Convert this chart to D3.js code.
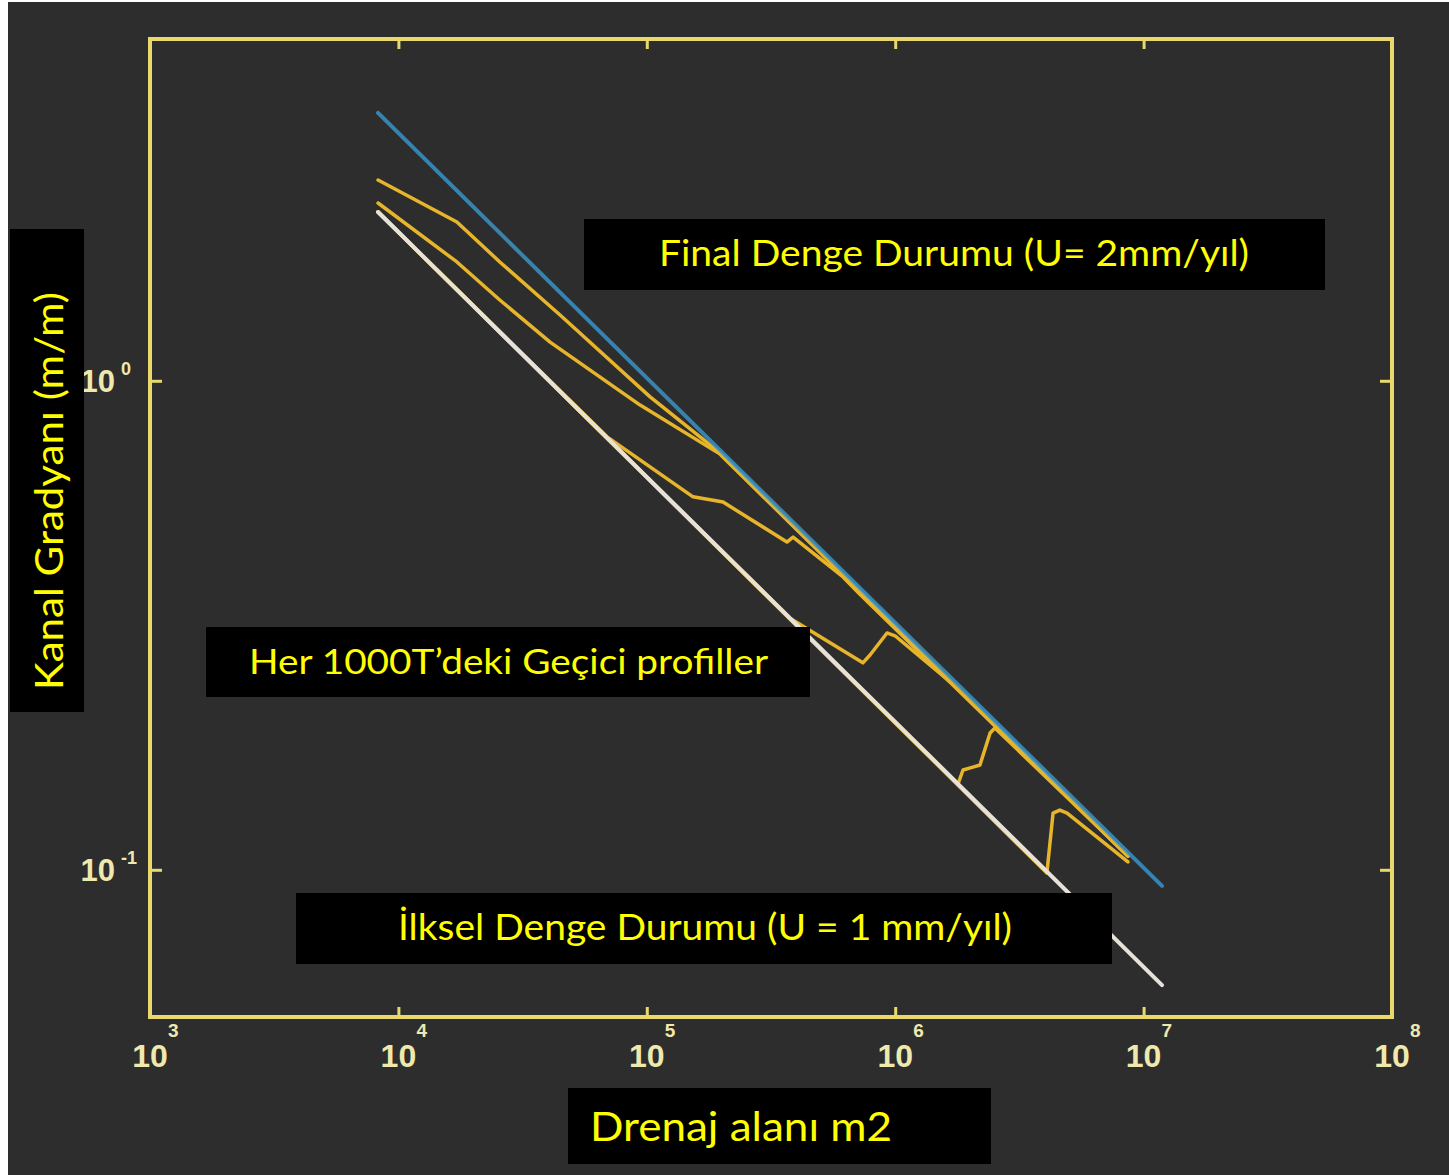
<!DOCTYPE html>
<html>
<head>
<meta charset="utf-8">
<script src="https://cdn.jsdelivr.net/npm/d3@7"></script>
<style>
  html, body { margin: 0; padding: 0; background: #ffffff; }
  svg { display: block; }
</style>
</head>
<body>
<div id="chart"></div>
<script>
'use strict';

// axis decades
const xTicks = [1e3, 1e4, 1e5, 1e6, 1e7, 1e8];
const yTicks = [1e-1, 1e0];

// equilibrium profiles, [drainage area m2, channel gradient m/m]
const initialProfile = [[8280, 2.214], [1.186e7, 0.0581]];
const finalProfile = [[8280, 3.53], [1.186e7, 0.0927]];

// transient profiles every 1000T (oldest first)
const transient1 = [[8280, 2.214], [4.08e6, 0.0985], [4.32e6, 0.1306], [4.60e6, 0.1325], [4.92e6, 0.1306], [8.65e6, 0.1038]];
const transient2 = [[8280, 2.214], [1.79e6, 0.1498], [1.875e6, 0.160], [2.056e6, 0.1622], [2.194e6, 0.1638], [2.41e6, 0.1905], [2.52e6, 0.195], [8.65e6, 0.1067]];
const transient3 = [[8280, 2.214], [3.77e5, 0.327], [7.41e5, 0.265], [7.92e5, 0.275], [9.27e5, 0.305], [9.98e5, 0.301], [1.824e6, 0.233], [8.65e6, 0.1067]];
const transient4 = [[8280, 2.214], [6.92e4, 0.768], [1.535e5, 0.579], [2.028e5, 0.565], [3.666e5, 0.468], [3.88e5, 0.479], [6.166e5, 0.397], [7.21e5, 0.366], [8.65e6, 0.1067]];
const transient5 = [[8280, 2.310], [1.72e4, 1.750], [2.56e4, 1.463], [4.08e4, 1.200], [9.4e4, 0.892], [1.972e5, 0.708], [8.65e6, 0.1067]];
const transient6 = [[8280, 2.574], [1.72e4, 2.112], [2.56e4, 1.750], [4.475e4, 1.363], [1.031e5, 0.927], [1.972e5, 0.712], [8.65e6, 0.1067]];
const transients = [transient1, transient2, transient3, transient4, transient5, transient6];

const W = 1449, H = 1175;
const frameColor = '#e9d86c';
const tickText = '#efe9ad';

const svg = d3.select('#chart').append('svg')
    .attr('width', W)
    .attr('height', H);

// dark page background
svg.append('rect')
    .attr('x', 8).attr('y', 2)
    .attr('width', W - 8).attr('height', H - 2)
    .attr('fill', '#2d2d2d');

const x = d3.scaleLog().domain([1e3, 1e8]).range([150, 1392]);
const y = d3.scaleLog().domain([0.05, 5]).range([1017, 39]);

// frame
svg.append('rect')
    .attr('x', x.range()[0]).attr('y', y.range()[1])
    .attr('width', x.range()[1] - x.range()[0])
    .attr('height', y.range()[0] - y.range()[1])
    .attr('fill', 'none')
    .attr('stroke', frameColor)
    .attr('stroke-width', 4);

// inner ticks on all four sides
function styleAxis(g) {
    g.select('.domain').remove();
    g.selectAll('.tick line').attr('stroke', frameColor).attr('stroke-width', 3);
    g.selectAll('.tick text').remove();
}
const innerX = xTicks.slice(1, -1);
svg.append('g').attr('transform', `translate(0, ${y.range()[0]})`)
    .call(d3.axisBottom(x).tickValues(innerX).tickSizeInner(-10).tickSizeOuter(0))
    .call(styleAxis);
svg.append('g').attr('transform', `translate(0, ${y.range()[1]})`)
    .call(d3.axisTop(x).tickValues(innerX).tickSizeInner(-10).tickSizeOuter(0))
    .call(styleAxis);
svg.append('g').attr('transform', `translate(${x.range()[0]}, 0)`)
    .call(d3.axisLeft(y).tickValues(yTicks).tickSizeInner(-12).tickSizeOuter(0))
    .call(styleAxis);
svg.append('g').attr('transform', `translate(${x.range()[1]}, 0)`)
    .call(d3.axisRight(y).tickValues(yTicks).tickSizeInner(-12).tickSizeOuter(0))
    .call(styleAxis);

// tick labels 10^n
const tickFont = '"Liberation Sans", Arial, sans-serif';
const xl = svg.append('g').attr('font-family', tickFont).attr('fill', tickText).attr('font-weight', 'bold');
xTicks.forEach(v => {
    xl.append('text')
        .attr('x', x(v)).attr('y', 1067)
        .attr('text-anchor', 'middle')
        .attr('font-size', 32)
        .text('10');
    xl.append('text')
        .attr('x', x(v) + 18).attr('y', 1037)
        .attr('font-size', 19)
        .text(Math.round(Math.log10(v)));
});
yTicks.forEach(v => {
    xl.append('text')
        .attr('x', 115).attr('y', y(v) + 11)
        .attr('text-anchor', 'end')
        .attr('font-size', 31)
        .text('10');
    xl.append('text')
        .attr('x', 121).attr('y', y(v) - 6)
        .attr('font-size', 18)
        .text(Math.round(Math.log10(v)));
});

// profiles
const line = d3.line().x(d => x(d[0])).y(d => y(d[1]));
const plot = svg.append('g').attr('fill', 'none').attr('stroke-linejoin', 'round').attr('stroke-linecap', 'round');

plot.selectAll('.transient')
    .data(transients)
  .enter().append('path')
    .attr('class', 'transient')
    .attr('d', line)
    .attr('stroke', '#e7b52c')
    .attr('stroke-width', 3.5);

plot.append('path')
    .attr('d', line(initialProfile))
    .attr('stroke', '#e6e2d8')
    .attr('stroke-width', 4);

plot.append('path')
    .attr('d', line(finalProfile))
    .attr('stroke', '#3a93c8')
    .attr('stroke-width', 4)
    .attr('stroke-opacity', 0.85);

// black annotation boxes
const boxFont = 'Lato, "Open Sans", sans-serif';
function note(bx, by, bw, bh, text, tx, ty, tw, size, rotate) {
    svg.append('rect')
        .attr('x', bx).attr('y', by)
        .attr('width', bw).attr('height', bh)
        .attr('fill', '#000');
    svg.append('text')
        .attr('transform', rotate ? `translate(${tx}, ${ty}) rotate(-90)` : `translate(${tx}, ${ty})`)
        .attr('font-family', boxFont)
        .attr('font-size', size)
        .attr('fill', '#ffff00')
        .attr('textLength', tw)
        .attr('lengthAdjust', 'spacingAndGlyphs')
        .text(text);
}

note(584, 219, 741, 71, 'Final Denge Durumu (U= 2mm/yıl)', 659, 266, 590, 36);
note(206, 627, 604, 70, 'Her 1000T’deki Geçici profiller', 249, 674, 519, 35);
note(296, 893, 816, 71, 'İlksel Denge Durumu (U = 1 mm/yıl)', 398, 940, 614, 36);
note(568, 1088, 423, 76, 'Drenaj alanı m2', 590, 1141, 302, 41);
note(10, 229, 74, 483, 'Kanal Gradyanı (m/m)', 63, 690, 398, 38, true);
</script>
</body>
</html>
